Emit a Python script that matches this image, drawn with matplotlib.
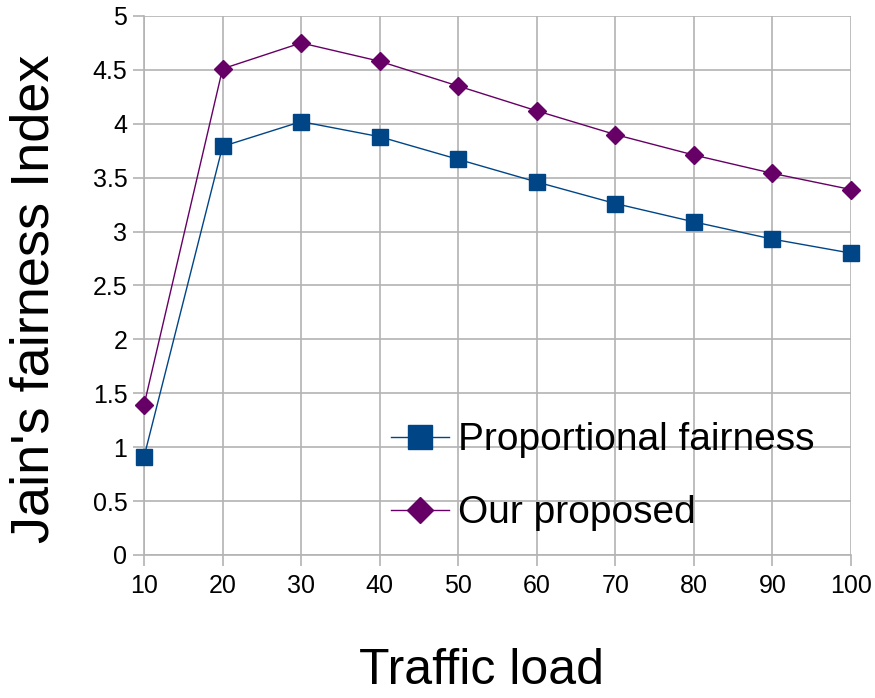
import matplotlib.pyplot as plt

plt.rcParams['font.family'] = ['Liberation Sans', 'DejaVu Sans']

# Traffic load on the x axis
carga = [10, 20, 30, 40, 50, 60, 70, 80, 90, 100]

# Jain's fairness index for each scheme
prop_fair = [0.91, 3.79, 4.02, 3.88, 3.67, 3.46, 3.26, 3.09, 2.93, 2.80]
nossa = [1.39, 4.51, 4.75, 4.58, 4.35, 4.12, 3.90, 3.71, 3.54, 3.39]

y_ticks = [0, 0.5, 1, 1.5, 2, 2.5, 3, 3.5, 4, 4.5, 5]
y_labels = ['0', '0.5', '1', '1.5', '2', '2.5', '3', '3.5', '4', '4.5', '5']

AZUL = '#004586'
ROXO = '#660066'
CINZA = '#b3b3b3'

fig = plt.figure(figsize=(8.75, 6.98), dpi=100)
ax = fig.add_axes([0.1646, 0.2049, 0.808, 0.7722])

ax.plot(carga, prop_fair, color=AZUL, lw=1.0, marker='s', ms=11.5,
        mec=AZUL, mfc=AZUL, label='Proportional fairness', zorder=3,
        clip_on=False)
ax.plot(carga, nossa, color=ROXO, lw=1.0, marker='D', ms=9,
        mec=ROXO, mfc=ROXO, label='Our proposed', zorder=3,
        clip_on=False)

ax.set_xlim(10, 100)
ax.set_ylim(0, 5)
ax.set_xticks(carga)
ax.set_yticks(y_ticks)
ax.set_yticklabels(y_labels)

ax.grid(True, color=CINZA, lw=1.2)
ax.set_axisbelow(True)
for lado in ['top', 'right']:
    ax.spines[lado].set_visible(False)
for lado in ['left', 'bottom']:
    ax.spines[lado].set_color(CINZA)
    ax.spines[lado].set_linewidth(1.2)
ax.tick_params(axis='both', colors=CINZA, length=8, width=1.2, labelsize=18,
               labelcolor='black')
ax.tick_params(axis='x', pad=6)
ax.tick_params(axis='y', pad=4)

ax.set_xlabel('Traffic load', fontsize=36)
ax.xaxis.set_label_coords(0.477, -0.172)
ax.set_ylabel("Jain's fairness Index", fontsize=39)
ax.yaxis.set_label_coords(-0.12, 0.475)

leg = ax.legend(loc='center left', bbox_to_anchor=(0.3, 0.145), fontsize=28,
                frameon=False, markerscale=1.5, handlelength=1.5,
                handletextpad=0.23, labelspacing=0.96)

plt.savefig('out.png', dpi=100)
